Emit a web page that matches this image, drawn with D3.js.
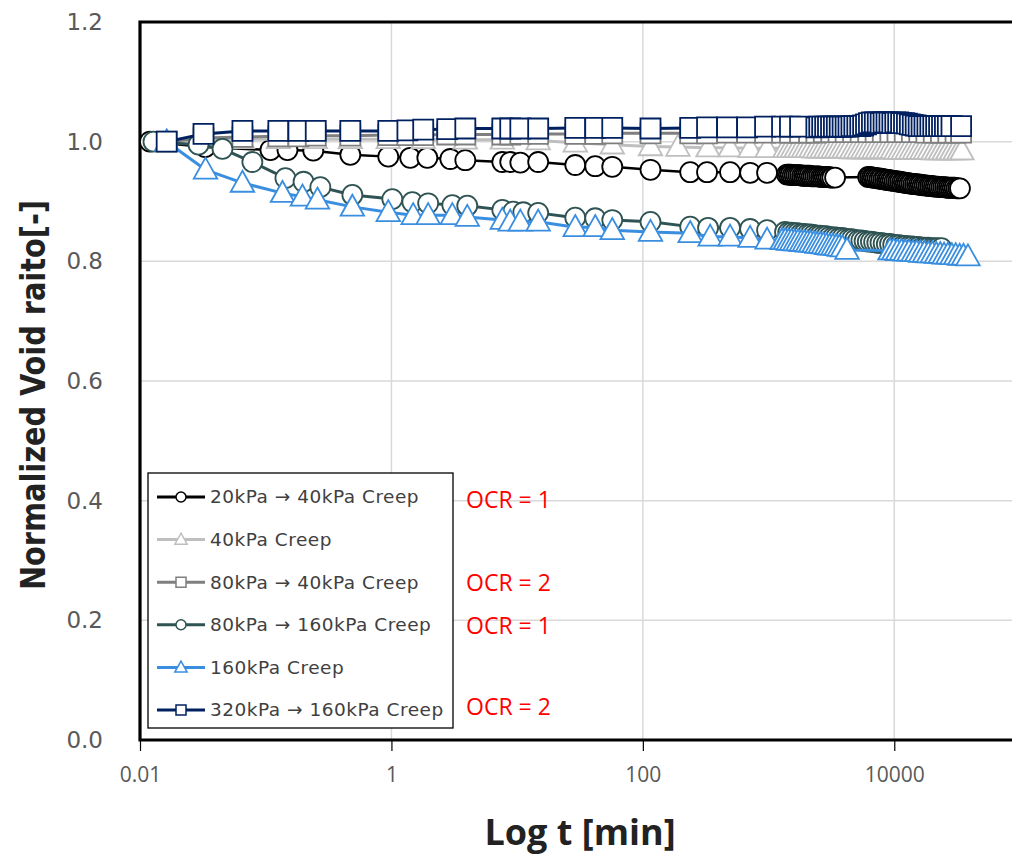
<!DOCTYPE html>
<html>
<head>
<meta charset="utf-8">
<script src="https://cdn.jsdelivr.net/npm/d3@7"></script>
<style>
  body { margin: 0; background: #fff; }
</style>
</head>
<body>
<svg id="chart" width="1012" height="859"></svg>
<script>
// ---- data (t in minutes, normalized void ratio) ----
const xTicks = [0.01, 1, 100, 10000];
const yTicks = [0, 0.2, 0.4, 0.6, 0.8, 1.0, 1.2];

const seriesNames = [
  '20kPa → 40kPa Creep',
  '40kPa Creep',
  '80kPa → 40kPa Creep',
  '80kPa → 160kPa Creep',
  '160kPa Creep',
  '320kPa → 160kPa Creep'
];
const ocrNotes = ['OCR = 1', 'OCR = 2', 'OCR = 1', 'OCR = 2'];

const t_20_40 = [0.012, 0.033, 0.109, 0.149, 0.239, 0.471, 0.944, 1.41, 1.93, 2.94, 3.87, 7.62, 8.81, 10.6, 14.7, 29.0, 41.8, 57.1, 115, 238, 324, 494, 713, 973,
  1403, 1450, 1500, 1555, 1610, 1665, 1725, 1785, 1850, 1915, 1980, 2050, 2125, 2200, 2275, 2355, 2440, 2525, 2615, 2705, 2800, 2900, 3000, 3105, 3215, 3380,
  6200, 6420, 6640, 6870, 7110, 7360, 7620, 7890, 8170, 8450, 8750, 9050, 9370, 9700, 10040, 10390, 10750, 11130, 11520, 11920,
  12340, 12770, 13220, 13680, 14160, 14650, 15170, 15700, 16250, 16810, 17400, 18010, 18640, 19290, 19970, 20670, 21390, 22140, 22910, 23710,
  24540, 25400, 26290, 27210, 28160, 29150, 30170, 31220, 32310, 33300];
const e_20_40 = [1.000, 0.991, 0.986, 0.986, 0.985, 0.978, 0.975, 0.973, 0.973, 0.971, 0.969, 0.966, 0.966, 0.965, 0.966, 0.961, 0.959, 0.958, 0.953, 0.949, 0.949, 0.949, 0.948, 0.948,
  0.945, 0.945, 0.945, 0.944, 0.944, 0.944, 0.944, 0.944, 0.943, 0.943, 0.943, 0.943, 0.943, 0.942, 0.942, 0.942, 0.942, 0.942, 0.941, 0.941, 0.941, 0.941, 0.941, 0.940, 0.940, 0.940,
  0.941, 0.941, 0.940, 0.940, 0.939, 0.939, 0.938, 0.938, 0.937, 0.937, 0.936, 0.936, 0.935, 0.935, 0.934, 0.934, 0.933, 0.933, 0.932, 0.932,
  0.931, 0.931, 0.930, 0.930, 0.929, 0.929, 0.929, 0.928, 0.928, 0.927, 0.927, 0.927, 0.926, 0.926, 0.926, 0.925, 0.925, 0.925, 0.924, 0.924,
  0.924, 0.924, 0.923, 0.923, 0.923, 0.923, 0.923, 0.922, 0.922, 0.922];

const t_40 = [0.0163, 0.033, 0.0653, 0.126, 0.248, 0.471, 0.944, 1.79, 3.87, 7.62, 14.7, 29.0, 57.1, 115, 190, 330, 494, 713, 973,
  1350, 1445, 1545, 1655, 1770, 1895, 2025, 2170, 2320, 2485, 2655, 2845, 3040, 3255, 3480, 3725, 3990, 4265, 4565, 4885,
  5230, 5595, 5985, 6405, 6855, 7335, 7845, 8395, 8985, 9615, 10290, 11010, 11780, 12600, 13490, 14430, 15440, 16520, 17680, 18920,
  20240, 21660, 23170, 24790, 26530, 28390, 30370, 32500, 34500];
const e_40 = [1.000, 1.004, 1.004, 1.004, 1.004, 1.004, 1.004, 1.004, 1.003, 1.003, 1.002, 0.998, 0.995, 0.992, 0.991, 0.990, 0.990, 0.989, 0.989,
  0.989, 0.989, 0.989, 0.989, 0.989, 0.989, 0.989, 0.989, 0.988, 0.988, 0.988, 0.988, 0.988, 0.988, 0.988, 0.988, 0.988, 0.988, 0.987, 0.987,
  0.987, 0.987, 0.987, 0.987, 0.987, 0.987, 0.987, 0.987, 0.987, 0.987, 0.986, 0.986, 0.986, 0.986, 0.986, 0.986, 0.986, 0.986, 0.986, 0.986,
  0.985, 0.985, 0.985, 0.985, 0.985, 0.985, 0.985, 0.985, 0.985];

const t_80_40 = [0.0163, 0.032, 0.0653, 0.126, 0.182, 0.25, 0.471, 0.944, 1.34, 1.79, 2.78, 3.87, 7.62, 8.81, 10.6, 14.7, 29.0, 41.8, 57.1, 115, 238, 324, 468, 675, 938, 1280, 1480, 1780,
  2100, 2400, 2750, 3150, 3600, 4100, 4700, 5400, 6200, 7100, 8100, 9300, 10600, 12100, 13800, 15800, 18000, 20600, 23500, 26900, 30700, 34000];
const e_80_40 = [1.000, 1.006, 1.008, 1.009, 1.009, 1.010, 1.010, 1.011, 1.011, 1.011, 1.012, 1.012, 1.012, 1.012, 1.013, 1.013, 1.013, 1.013, 1.014, 1.014, 1.014, 1.014, 1.015, 1.015, 1.015, 1.015, 1.015, 1.015,
  1.015, 1.015, 1.016, 1.016, 1.016, 1.016, 1.016, 1.016, 1.016, 1.016, 1.016, 1.016, 1.016, 1.016, 1.016, 1.016, 1.015, 1.015, 1.015, 1.015, 1.015, 1.015];

const t_80_160 = [0.0128, 0.0292, 0.0453, 0.0783, 0.1435, 0.2, 0.272, 0.489, 1.016, 1.466, 1.96, 3.05, 4.01, 7.62, 9.31, 11.2, 14.7, 29.0, 41.8, 57.1, 115, 238, 330, 494, 713, 973, 1352,
  1433, 1519, 1610, 1707, 1809, 1918, 2033, 2155, 2284, 2421, 2566, 2720, 2884, 3057, 3240, 3434, 3640, 3859, 4090, 4336,
  4596, 4871, 5164, 5473, 5802, 6150, 6519, 6910, 7324, 7764, 8230, 8723, 9247, 9801, 10390, 11010, 11670, 12370, 13120, 13900,
  14740, 15620, 16560, 17550, 18610, 19720, 20910, 22160, 23730];
const e_80_160 = [1.000, 0.995, 0.988, 0.966, 0.939, 0.933, 0.924, 0.911, 0.904, 0.899, 0.897, 0.894, 0.893, 0.886, 0.883, 0.882, 0.881, 0.873, 0.872, 0.869, 0.866, 0.858, 0.856, 0.856, 0.854, 0.852, 0.849,
  0.848, 0.848, 0.847, 0.847, 0.846, 0.846, 0.845, 0.845, 0.844, 0.843, 0.843, 0.842, 0.842, 0.841, 0.840, 0.840, 0.839, 0.839, 0.838, 0.837,
  0.837, 0.836, 0.835, 0.835, 0.834, 0.833, 0.833, 0.832, 0.831, 0.831, 0.830, 0.829, 0.829, 0.828, 0.827, 0.827, 0.826, 0.826, 0.825, 0.825,
  0.824, 0.824, 0.823, 0.823, 0.823, 0.822, 0.822, 0.822, 0.822];

const t_160 = [0.0163, 0.0332, 0.0653, 0.136, 0.196, 0.258, 0.489, 0.944, 1.49, 1.96, 3.05, 4.01, 7.62, 8.81, 10.6, 14.7, 29.0, 41.8, 57.1, 115, 238, 343, 494, 713, 973,
  1280, 1357, 1438, 1525, 1616, 1713, 1816, 1925, 2040, 2163, 2293, 2430, 2576, 2730, 2894, 3068, 3252, 3447, 3654, 3873, 4207,
  9250, 9900, 10600, 11400, 12200, 13100, 14100, 15100, 16200, 17400, 18700, 20100, 21600, 23200, 24900, 26700, 28700, 30800, 33100, 35500, 38550];
const e_160 = [1.000, 0.953, 0.931, 0.914, 0.908, 0.903, 0.891, 0.882, 0.877, 0.877, 0.877, 0.874, 0.869, 0.866, 0.866, 0.866, 0.857, 0.857, 0.852, 0.849, 0.847, 0.841, 0.841, 0.839, 0.836,
  0.835, 0.835, 0.834, 0.834, 0.833, 0.833, 0.832, 0.832, 0.831, 0.831, 0.830, 0.829, 0.829, 0.828, 0.827, 0.826, 0.826, 0.825, 0.824, 0.823, 0.819,
  0.818, 0.818, 0.817, 0.817, 0.816, 0.816, 0.815, 0.815, 0.814, 0.814, 0.813, 0.813, 0.812, 0.812, 0.811, 0.811, 0.810, 0.810, 0.809, 0.809, 0.808];

const t_320_160 = [0.0163, 0.032, 0.0653, 0.126, 0.182, 0.25, 0.471, 0.944, 1.34, 1.79, 2.78, 3.87, 7.62, 8.81, 10.6, 14.7, 29.0, 41.8, 57.1, 115, 238, 324, 468, 675, 938, 1280, 1480, 1780,
  2400, 2530, 2670, 2820, 2970, 3140, 3310, 3490, 3680, 3880, 4100, 4320, 4560, 4810, 5080, 5360, 5650,
  5960, 6290, 6640, 7000, 7390, 7790, 8220, 8670, 9150, 9650, 10180, 10740, 11330, 11950, 12610, 13300, 14030,
  14800, 15620, 16480, 17380, 18340, 19350, 20410, 21530, 22720, 23970, 25280, 26670, 28500, 34000];
const e_320_160 = [1.000, 1.013, 1.018, 1.018, 1.018, 1.018, 1.018, 1.018, 1.019, 1.020, 1.021, 1.022, 1.022, 1.022, 1.022, 1.022, 1.023, 1.023, 1.023, 1.022, 1.023, 1.024, 1.024, 1.024, 1.025, 1.025, 1.025, 1.025,
  1.024, 1.025, 1.025, 1.025, 1.025, 1.025, 1.025, 1.025, 1.025, 1.025, 1.025, 1.025, 1.026, 1.026, 1.026, 1.026, 1.027,
  1.029, 1.031, 1.032, 1.032, 1.032, 1.031, 1.032, 1.032, 1.032, 1.031, 1.032, 1.032, 1.031, 1.031, 1.030, 1.029, 1.028,
  1.027, 1.026, 1.026, 1.026, 1.026, 1.026, 1.026, 1.026, 1.026, 1.026, 1.026, 1.026, 1.026, 1.026];

// ---- styles ----
const styles = [
  {color: '#000000', shape: 'circle',   lw: 2.5},
  {color: '#bfbfbf', shape: 'triangle', lw: 3},
  {color: '#7f7f7f', shape: 'square',   lw: 3},
  {color: '#2f5353', shape: 'circle',   lw: 3},
  {color: '#3a8ee0', shape: 'triangle', lw: 3},
  {color: '#002060', shape: 'square',   lw: 3}
];
const seriesT = [t_20_40, t_40, t_80_40, t_80_160, t_160, t_320_160];
const seriesE = [e_20_40, e_40, e_80_40, e_80_160, e_160, e_320_160];

const series = seriesNames.map((name, i) => ({
  name,
  style: styles[i],
  points: seriesT[i].map((t, j) => ({t, e: seriesE[i][j]}))
}));

const svg = d3.select('#chart');
const plotL = 140, plotR = 1020, plotT = 22, plotB = 740;

const x = d3.scaleLog().domain([0.01, 100000]).range([plotL, plotR]);
const y = d3.scaleLinear().domain([0, 1.2]).range([plotB, plotT]);

// gridlines
svg.append('g')
  .selectAll('line')
  .data(yTicks.filter(d => d > 0 && d < 1.2))
  .enter().append('line')
    .attr('x1', plotL).attr('x2', plotR)
    .attr('y1', d => y(d)).attr('y2', d => y(d))
    .attr('stroke', '#d9d9d9').attr('stroke-width', 1.5);

svg.append('g')
  .selectAll('line')
  .data(xTicks.filter(d => d > 0.01))
  .enter().append('line')
    .attr('x1', d => x(d)).attr('x2', d => x(d))
    .attr('y1', plotT).attr('y2', plotB)
    .attr('stroke', '#d9d9d9').attr('stroke-width', 1.5);

// x axis with ticks below
const xAxis = svg.append('g')
  .attr('transform', `translate(0,${plotB})`)
  .call(d3.axisBottom(x).tickValues(xTicks).tickFormat(d3.format('~g')).tickSize(11).tickPadding(16));
xAxis.select('.domain').remove();
xAxis.selectAll('.tick line').attr('stroke', '#000').attr('stroke-width', 1.2);
xAxis.selectAll('.tick text')
  .attr('fill', '#595959')
  .style('font-family', '"Open Sans", sans-serif')
  .style('font-size', '21px');

// y axis labels
const yAxis = svg.append('g')
  .attr('transform', `translate(${plotL},0)`)
  .call(d3.axisLeft(y).tickValues(yTicks).tickFormat(d3.format('.1f')).tickSize(0).tickPadding(37));
yAxis.select('.domain').remove();
yAxis.selectAll('.tick text')
  .attr('fill', '#595959')
  .style('font-family', '"DejaVu Sans", sans-serif')
  .style('font-size', '23px');

// plot frame (left, top, bottom)
svg.append('path')
  .attr('d', `M${plotR},${plotT}H${plotL}V${plotB}H${plotR}`)
  .attr('fill', 'none')
  .attr('stroke', '#000')
  .attr('stroke-width', 3.2);

// markers
function markerPath(shape, s) {
  if (shape === 'square') return `M${-s/2},${-s/2}h${s}v${s}h${-s}Z`;
  if (shape === 'triangle') {
    const w = s * 1.12, h = s;
    return `M0,${-h * 0.58}L${w / 2},${h * 0.42}L${-w / 2},${h * 0.42}Z`;
  }
  const r = s / 2;
  return `M${r},0A${r},${r} 0 1,1 ${-r},0A${r},${r} 0 1,1 ${r},0Z`;
}
const markerSize = {circle: 20, square: 20, triangle: 21};

const line = d3.line().x(d => x(d.t)).y(d => y(d.e));

const sg = svg.selectAll('g.series')
  .data(series)
  .enter().append('g')
    .attr('class', 'series');

sg.append('path')
  .attr('d', d => line(d.points))
  .attr('fill', 'none')
  .attr('stroke', d => d.style.color)
  .attr('stroke-width', d => d.style.lw)
  .attr('stroke-linejoin', 'round');

sg.each(function(s) {
  d3.select(this).selectAll('path.m')
    .data(s.points)
    .enter().append('path')
      .attr('class', 'm')
      .attr('transform', d => `translate(${x(d.t)},${y(d.e)})`)
      .attr('d', markerPath(s.style.shape, markerSize[s.style.shape]))
      .attr('fill', '#fff')
      .attr('stroke', s.style.color)
      .attr('stroke-width', 1.8);
});

// legend
const lgX = 148, lgY = 473, lgW = 305, lgH = 255, rowStep = 42.6, row0 = 497;
svg.append('rect')
  .attr('x', lgX).attr('y', lgY).attr('width', lgW).attr('height', lgH)
  .attr('fill', '#fff').attr('stroke', '#000').attr('stroke-width', 1.3);

const lg = svg.selectAll('g.lg')
  .data(series)
  .enter().append('g')
    .attr('class', 'lg')
    .attr('transform', (d, i) => `translate(0,${row0 + i * rowStep})`);

lg.append('line')
  .attr('x1', 157).attr('x2', 205)
  .attr('stroke', d => d.style.color)
  .attr('stroke-width', 3);
lg.append('path')
  .attr('transform', 'translate(181,0)')
  .attr('d', d => markerPath(d.style.shape, d.style.shape === 'triangle' ? 11 : 10))
  .attr('fill', '#fff')
  .attr('stroke', d => d.style.color)
  .attr('stroke-width', 1.5);
lg.append('text')
  .attr('x', 210)
  .attr('dy', '0.35em')
  .attr('fill', '#404040')
  .style('font-family', '"DejaVu Sans", sans-serif')
  .style('font-size', '18.5px')
  .style('letter-spacing', '0.5px')
  .text(d => d.name);

// OCR notes to the right of the legend
const ocrY = [500, 583, 626, 707];
svg.selectAll('text.ocr')
  .data(ocrNotes)
  .enter().append('text')
    .attr('class', 'ocr')
    .attr('x', 466)
    .attr('y', (d, i) => ocrY[i])
    .attr('dy', '0.35em')
    .attr('fill', '#ff0000')
    .style('font-family', '"Open Sans", sans-serif')
    .style('font-size', '23px')
    .text(d => d);

// axis titles
svg.append('text')
  .attr('x', (plotL + plotR) / 2)
  .attr('y', 832)
  .attr('dy', '0.35em')
  .attr('text-anchor', 'middle')
  .attr('fill', '#222')
  .style('font-family', '"Open Sans", sans-serif')
  .style('font-weight', 700)
  .style('font-size', '36px')
  .text('Log t [min]');

svg.append('text')
  .attr('transform', 'translate(33,395) rotate(-90)')
  .attr('dy', '0.35em')
  .attr('text-anchor', 'middle')
  .attr('fill', '#222')
  .attr('textLength', 390)
  .attr('lengthAdjust', 'spacingAndGlyphs')
  .style('font-family', '"Liberation Sans Narrow", "DejaVu Sans Condensed", sans-serif')
  .style('font-weight', 700)
  .style('font-size', '33px')
  .text('Normalized Void raito[-]');
</script>
</body>
</html>
